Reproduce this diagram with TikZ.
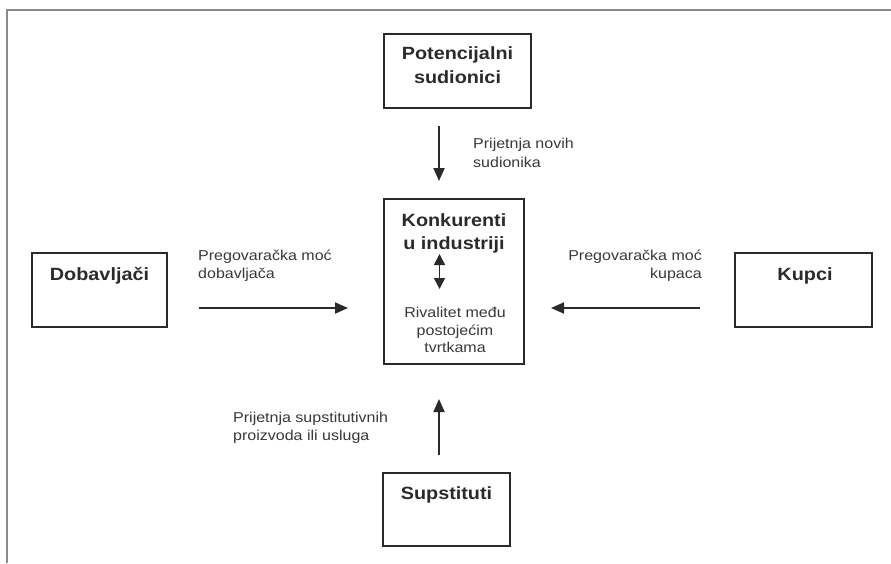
\documentclass[tikz,border=0pt]{standalone}
\usepackage{fontspec}
\setmainfont{Liberation Sans}[FakeStretch=1.12]
\usetikzlibrary{arrows.meta}
\definecolor{ink}{HTML}{2A2A2A}
\definecolor{txt}{HTML}{383838}
\definecolor{framec}{HTML}{8A8A8A}
\begin{document}
\begin{tikzpicture}[x=1pt,y=-1pt,
  box/.style={draw=ink,line width=1.8pt,inner sep=0pt},
  ttl/.style={font=\fontsize{17.7}{22}\selectfont\bfseries,text=ink,inner sep=0pt,anchor=base},
  lbl/.style={font=\fontsize{14.3}{18}\selectfont,text=txt,inner sep=0pt},
  arr/.style={draw=ink,line width=1.8pt,-{Triangle[length=13pt,width=11pt]}},
  darr/.style={draw=ink,line width=1.6pt,{Triangle[length=11pt,width=11pt]}-{Triangle[length=11pt,width=11pt]}}]
\useasboundingbox (0,0) rectangle (891,563);
% frame
\draw[framec,line width=1.2pt] (7,563) -- (7,10) -- (891,10);
% boxes
\node[box,minimum width=147pt,minimum height=74pt] (pot) at (457.5,71) {};
\node[box,minimum width=140pt,minimum height=165pt] (kon) at (454,281.5) {};
\node[box,minimum width=135pt,minimum height=74pt] (dob) at (99.5,290) {};
\node[box,minimum width=137pt,minimum height=74pt] (kup) at (803.5,290) {};
\node[box,minimum width=127pt,minimum height=73pt] (sup) at (446.5,509.5) {};
% box titles
\node[ttl] (potA) at (457.5,59) {Potencijalni};
\node[ttl] (potB) at (457.5,83) {sudionici};
\node[ttl] (konA) at (454,226) {Konkurenti};
\node[ttl] (konB) at (454,249) {u industriji};
\node[ttl] (dobT) at (99.5,280) {Dobavljači};
\node[ttl] (kupT) at (805,280) {Kupci};
\node[ttl] (supT) at (446.5,499) {Supstituti};
% rivalry text
\node[lbl,anchor=base] (rivA) at (455,317) {Rivalitet među};
\node[lbl,anchor=base] (rivB) at (455,335) {postojećim};
\node[lbl,anchor=base] (rivC) at (455,352) {tvrtkama};
% labels
\node[lbl,anchor=base west] (lnA) at (473,148) {Prijetnja novih};
\node[lbl,anchor=base west] (lnB) at (473,167) {sudionika};
\node[lbl,anchor=base west] (ldA) at (198,260) {Pregovaračka moć};
\node[lbl,anchor=base west] (ldB) at (198,278) {dobavljača};
\node[lbl,anchor=base east] (lkA) at (702,260) {Pregovaračka moć};
\node[lbl,anchor=base east] (lkB) at (702,278) {kupaca};
\node[lbl,anchor=base west] (lsA) at (233,422) {Prijetnja supstitutivnih};
\node[lbl,anchor=base west] (lsB) at (233,440) {proizvoda ili usluga};
% arrow endpoints
\coordinate (nS) at (439,126);
\coordinate (nE) at (439,181);
\coordinate (dS) at (199,308);
\coordinate (dE) at (348,308);
\coordinate (kS) at (700,308);
\coordinate (kE) at (551,308);
\coordinate (sS) at (439,455);
\coordinate (sE) at (439,399);
\coordinate (rA) at (439.5,254);
\coordinate (rB) at (439.5,289);
% arrows
\draw[arr] (nS) -- (nE);
\draw[arr] (dS) -- (dE);
\draw[arr] (kS) -- (kE);
\draw[arr] (sS) -- (sE);
\draw[darr] (rA) -- (rB);
\end{tikzpicture}
\end{document}
